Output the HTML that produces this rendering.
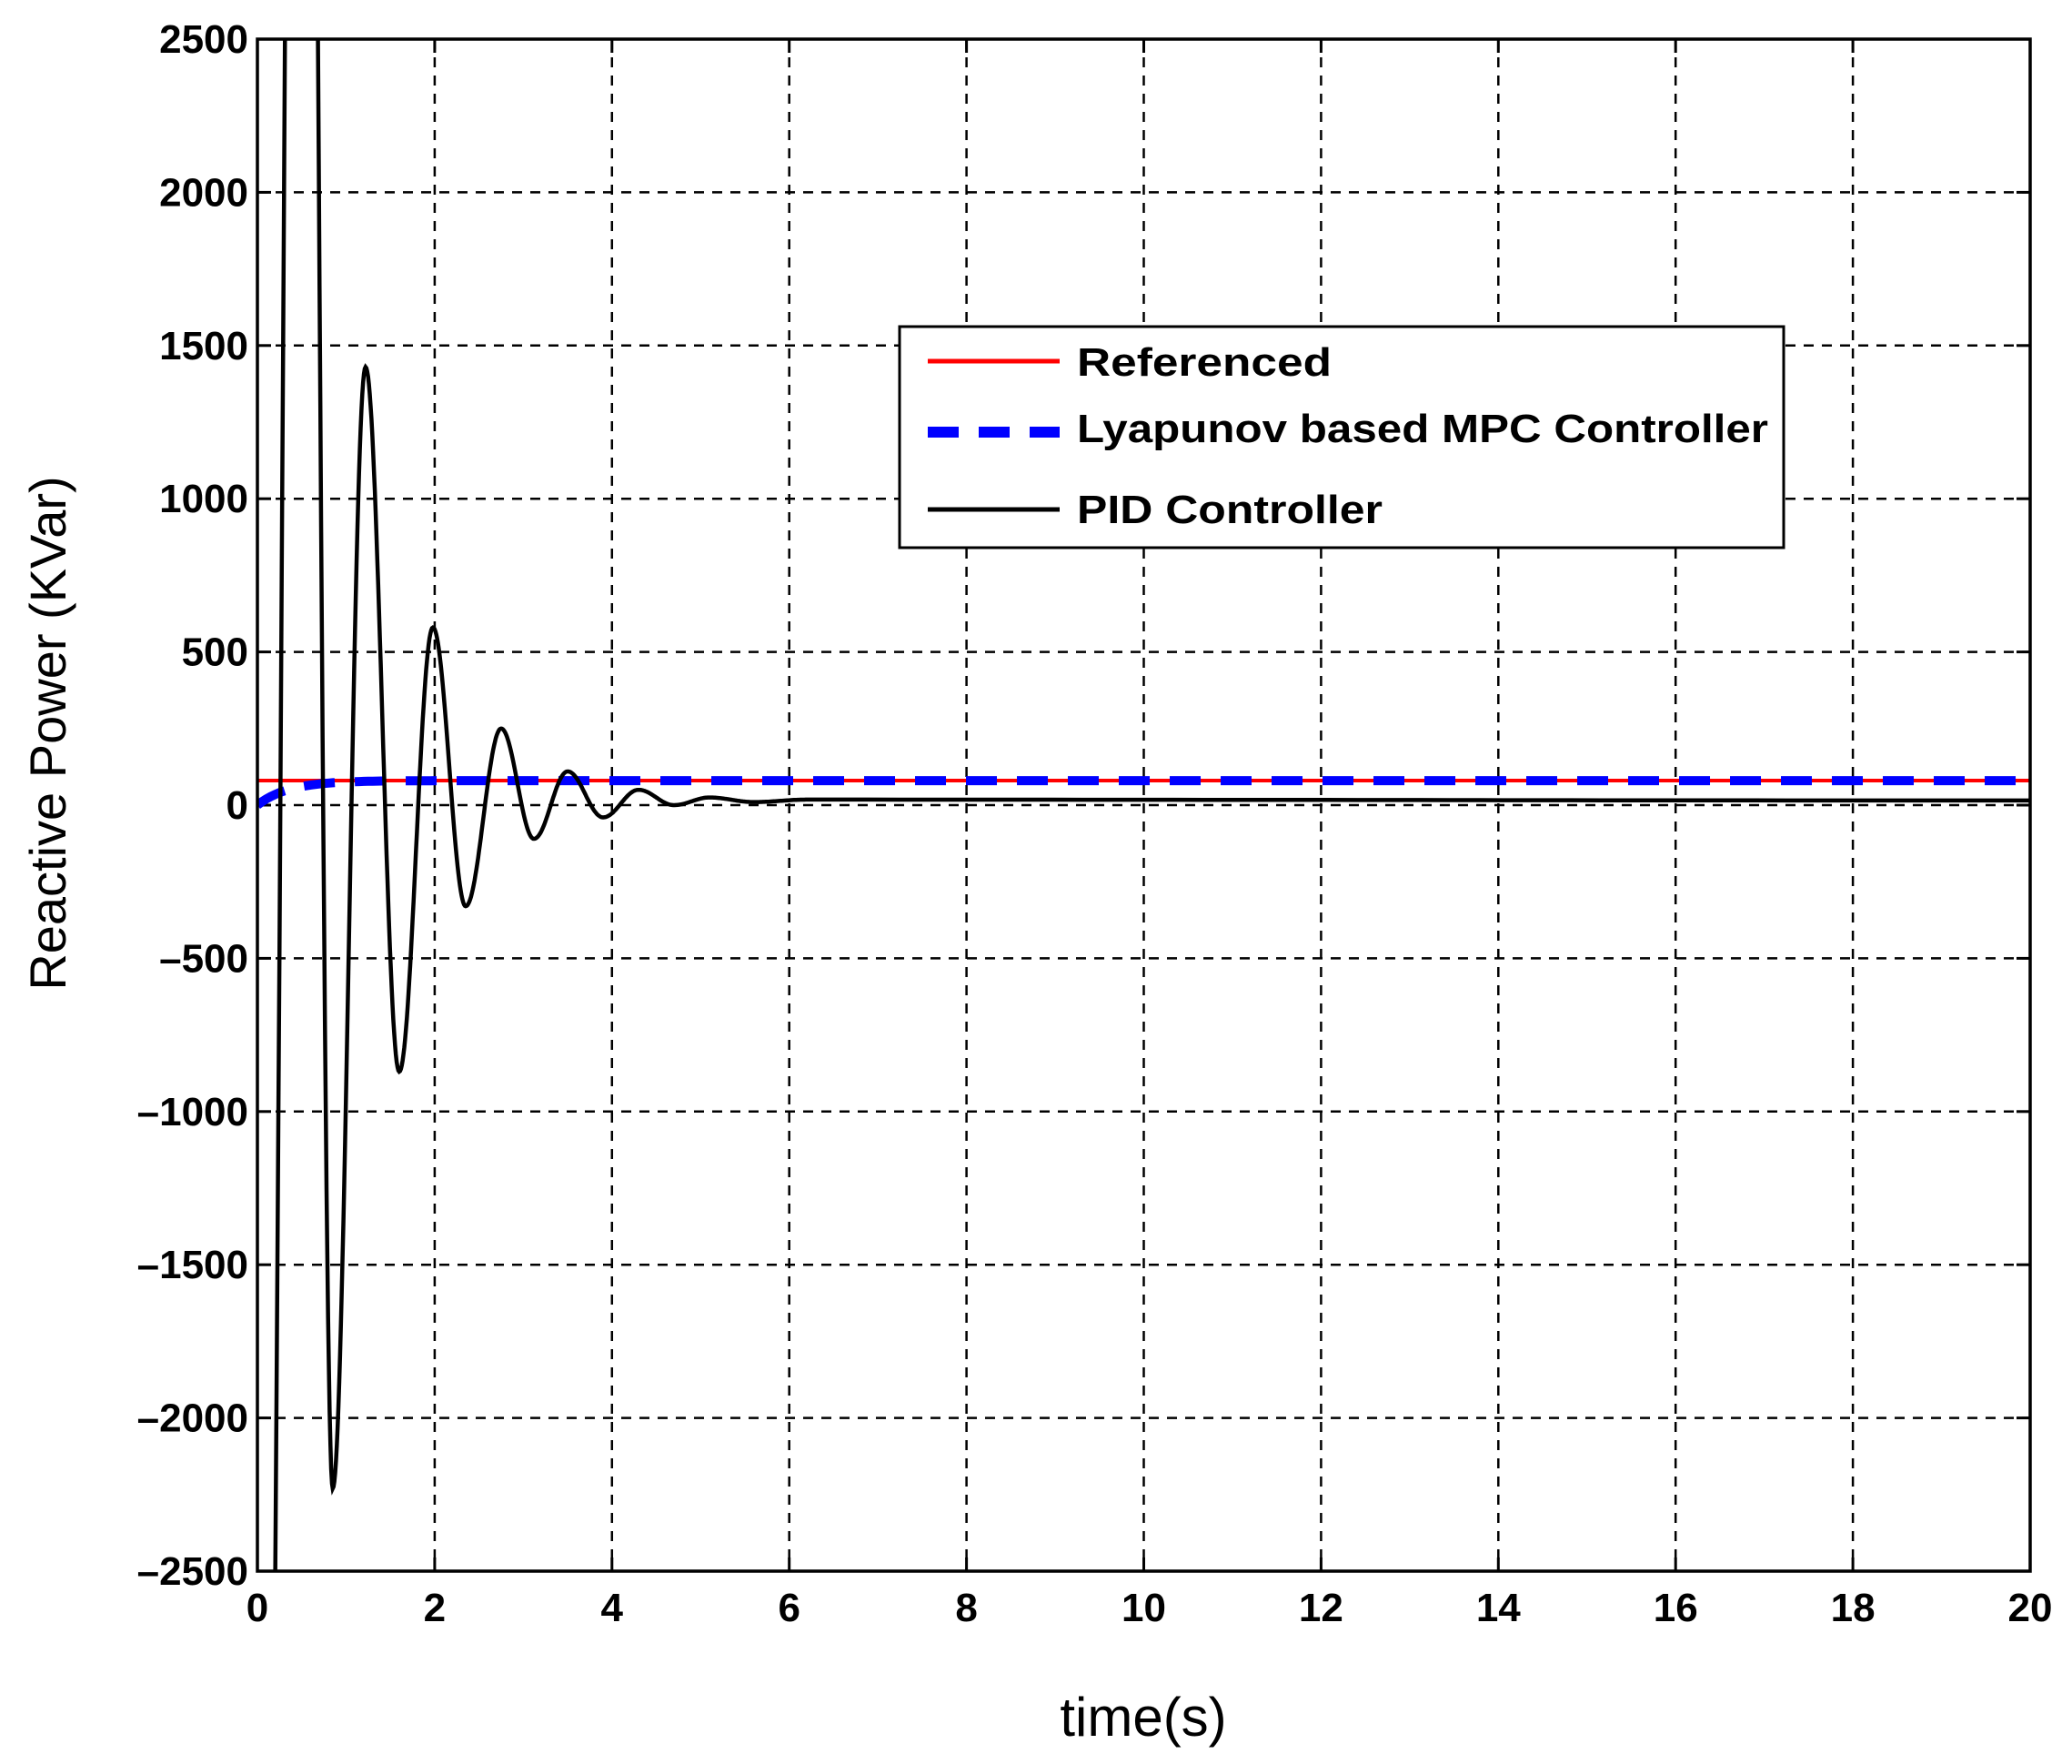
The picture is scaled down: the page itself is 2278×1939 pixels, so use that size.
<!DOCTYPE html>
<html><head><meta charset="utf-8"><style>
html,body{margin:0;padding:0;background:#fff;overflow:hidden;width:2278px;height:1939px;position:relative;}
svg{display:block;position:absolute;left:0;top:0;}
text{font-family:"Liberation Sans",Arial,sans-serif;}
</style></head><body>
<svg id="s" width="2278" height="1939" xmlns="http://www.w3.org/2000/svg">
<rect width="2278" height="1939" fill="#fff"/>
<g id="grid" stroke="#000" stroke-width="2.5" stroke-dasharray="11,9"></g>
<g id="ticks" stroke="#000" stroke-width="3"></g>
<g id="labels" font-size="44" font-weight="bold" fill="#000"></g>
<defs><clipPath id="c"><rect x="283" y="43" width="1949" height="1684"/></clipPath></defs>
<g clip-path="url(#c)">
<path id="ref" fill="none" stroke="#f00" stroke-width="4"/>
<path id="mpc" fill="none" stroke="#00f" stroke-width="10" stroke-dasharray="34,22"/>
<path id="pid" fill="none" stroke="#000" stroke-width="4.5"/>
</g>
<rect x="283" y="43" width="1949" height="1684" fill="none" stroke="#000" stroke-width="3.5"/>
<rect x="989" y="359" width="972" height="243" fill="#fff" stroke="#000" stroke-width="3"/>
<line x1="1020" y1="397" x2="1165" y2="397" stroke="#f00" stroke-width="5"/>
<line x1="1020" y1="475" x2="1165" y2="475" stroke="#00f" stroke-width="12" stroke-dasharray="34,22"/>
<line x1="1020" y1="560" x2="1165" y2="560" stroke="#000" stroke-width="5"/>
<g font-size="44" font-weight="bold" fill="#000">
<text x="1184" y="413" textLength="280" lengthAdjust="spacingAndGlyphs">Referenced</text>
<text x="1184" y="486" textLength="760" lengthAdjust="spacingAndGlyphs">Lyapunov based MPC Controller</text>
<text x="1184" y="575" textLength="336" lengthAdjust="spacingAndGlyphs">PID Controller</text>
</g>
<text x="1257" y="1908" font-size="60" text-anchor="middle">time(s)</text>
<text transform="translate(72,806) rotate(-90)" font-size="56" text-anchor="middle">Reactive Power (KVar)</text>
</svg>
<script>
var L=283,R=2232,T=43,B=1727;
function X(t){return L+t*(R-L)/20;}
function Y(v){return T+(2500-v)*(B-T)/5000;}
var g=document.getElementById('grid'),tk=document.getElementById('ticks'),lb=document.getElementById('labels');
var ns='http://www.w3.org/2000/svg';
function el(p,n,a,txt){var e=document.createElementNS(ns,n);for(var k in a)e.setAttribute(k,a[k]);if(txt!==undefined)e.textContent=txt;p.appendChild(e);return e;}
for(var t=2;t<20;t+=2){el(g,'line',{x1:X(t),y1:T,x2:X(t),y2:B});}
for(var t=0;t<=20;t+=2){el(tk,'line',{x1:X(t),y1:B,x2:X(t),y2:B-15});el(tk,'line',{x1:X(t),y1:T,x2:X(t),y2:T+15});
 el(lb,'text',{x:X(t),y:1782,'text-anchor':'middle'},String(t));}
for(var v=-2000;v<2500;v+=500){el(g,'line',{x1:L,y1:Y(v),x2:R,y2:Y(v)});}
for(var v=-2500;v<=2500;v+=500){el(tk,'line',{x1:L,y1:Y(v),x2:L+15,y2:Y(v)});el(tk,'line',{x1:R,y1:Y(v),x2:R-15,y2:Y(v)});
 var s=v<0?'\u2013'+(-v):String(v);
 el(lb,'text',{x:273,y:Y(v)+15,'text-anchor':'end'},s);}
document.getElementById('ref').setAttribute('d','M'+X(0)+','+Y(80)+'L'+X(20)+','+Y(80));
var d='';for(var i=0;i<=400;i++){var t=i*0.05;var v=80*(1-Math.exp(-t/0.35));d+=(i?'L':'M')+X(t).toFixed(1)+','+Y(v).toFixed(1);}
document.getElementById('mpc').setAttribute('d',d);
var ex=[[0.08,-5000],[0.5,8000],[0.85,-2230],[1.22,1430],[1.6,-870],[1.98,580],[2.35,-330],[2.75,250],[3.12,-110],[3.5,110],[3.9,-40],[4.3,50],[4.7,0],[5.1,25],[5.6,10],[6.2,18],[20,15]];
d='';var first=true;
for(var k=0;k<ex.length-1;k++){var a=ex[k],b=ex[k+1];var n=40;
 for(var j=0;j<=n;j++){var f=j/n;var t=a[0]+(b[0]-a[0])*f;var v=a[1]+(b[1]-a[1])*(1-Math.cos(Math.PI*f))/2;
  d+=(first?'M':'L')+X(t).toFixed(1)+','+Y(v).toFixed(1);first=false;}}
document.getElementById('pid').setAttribute('d',d);
</script>
</body></html>
